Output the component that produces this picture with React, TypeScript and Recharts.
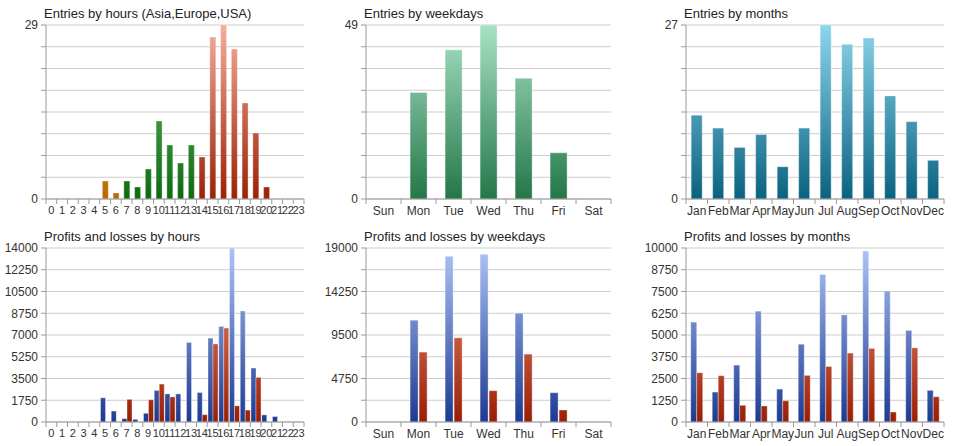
import { BarChart, Bar, XAxis, YAxis, CartesianGrid, Cell } from 'recharts'

const hours = ['0', '1', '2', '3', '4', '5', '6', '7', '8', '9', '10', '11', '12', '13', '14', '15', '16', '17', '18', '19', '20', '21', '22', '23']
const hourSession = ['Asia', 'Asia', 'Asia', 'Asia', 'Asia', 'Asia', 'Asia', 'Europe', 'Europe', 'Europe', 'Europe', 'Europe', 'Europe', 'Europe', 'USA', 'USA', 'USA', 'USA', 'USA', 'USA', 'USA', 'USA', 'USA', 'USA']
const entriesByHour = [0, 0, 0, 0, 0, 3, 1, 3, 2, 5, 13, 9, 6, 9, 7, 27, 29, 25, 16, 11, 2, 0, 0, 0]

const weekdays = ['Sun', 'Mon', 'Tue', 'Wed', 'Thu', 'Fri', 'Sat']
const entriesByWeekday = [0, 30, 42, 49, 34, 13, 0]

const months = ['Jan', 'Feb', 'Mar', 'Apr', 'May', 'Jun', 'Jul', 'Aug', 'Sep', 'Oct', 'Nov', 'Dec']
const entriesByMonth = [13, 11, 8, 10, 5, 11, 27, 24, 25, 16, 12, 6]

const profitByHour = [0, 0, 0, 0, 0, 1950, 880, 270, 210, 700, 2540, 2260, 2260, 6400, 2370, 6750, 7690, 14000, 8930, 4340, 570, 440, 0, 0]
const lossByHour = [0, 0, 0, 0, 0, 0, 0, 1820, 0, 1790, 3050, 2020, 0, 0, 590, 6280, 7560, 1300, 960, 3590, 0, 0, 0, 0]

const profitByWeekday = [0, 11120, 18090, 18310, 11880, 3200, 0]
const lossByWeekday = [0, 7630, 9190, 3420, 7410, 1310, 0]

const profitByMonth = [5740, 1720, 3270, 6370, 1890, 4470, 8470, 6160, 9830, 7530, 5260, 1820]
const lossByMonth = [2830, 2660, 960, 920, 1220, 2680, 3190, 3960, 4230, 570, 4260, 1450]

const entriesTicks = (max: number) => Array.from({ length: 9 }, (_, i) => (max * i) / 8)
const plTicksHours = [0, 1750, 3500, 5250, 7000, 8750, 10500, 12250, 14000]
const plTicksWeekdays = [0, 2375, 4750, 7125, 9500, 11875, 14250, 16625, 19000]
const plTicksWeekdaysLabels = [0, 4750, 9500, 14250, 19000]
const plTicksMonths = [0, 1250, 2500, 3750, 5000, 6250, 7500, 8750, 10000]

const hourData = hours.map((h, i) => ({ name: h, entries: entriesByHour[i], session: hourSession[i], profit: profitByHour[i], loss: lossByHour[i] }))
const weekdayData = weekdays.map((d, i) => ({ name: d, entries: entriesByWeekday[i], profit: profitByWeekday[i], loss: lossByWeekday[i] }))
const monthData = months.map((m, i) => ({ name: m, entries: entriesByMonth[i], profit: profitByMonth[i], loss: lossByMonth[i] }))

const FONT = '"Liberation Sans", Arial, sans-serif'
const AXIS = '#9a9a9a'
const GRID = '#cdcdcd'
const TEXT = '#333'
const W = 320
const H = 223
const TOP = 25
const BOTTOM = 199

const sessionFill: Record<string, string> = { Asia: 'url(#gAsia)', Europe: 'url(#gEurope)', USA: 'url(#gUsa)' }

function grad(id: string, top: string, bottom: string) {
  return (
    <linearGradient id={id} gradientUnits="userSpaceOnUse" x1={0} y1={TOP} x2={0} y2={BOTTOM}>
      <stop offset="0%" stopColor={top} />
      <stop offset="100%" stopColor={bottom} />
    </linearGradient>
  )
}

// category ticks: label in the middle, tick marks on the slot borders
const makeTick = (plotWidth: number, count: number, fontSize = 12) => (props: any) => {
  const { x, y, payload, index } = props
  const slot = plotWidth / count
  const axisY = y - 7
  return (
    <g>
      <line x1={x - slot / 2} x2={x - slot / 2} y1={axisY} y2={axisY + 5} stroke={AXIS} />
      {index === count - 1 && <line x1={x + slot / 2} x2={x + slot / 2} y1={axisY} y2={axisY + 5} stroke={AXIS} />}
      <text x={x} y={axisY + 7} dy="0.71em" textAnchor="middle" fontSize={fontSize} fill={TEXT} fontFamily={FONT}>
        {payload.value}
      </text>
    </g>
  )
}

const endsOnly = (max: number) => (v: number) => (v === 0 || v === max ? String(v) : '')

function Panel({ title, left, top, children }: any) {
  return (
    <div style={{ position: 'absolute', left, top, width: W, height: H }}>
      <div style={{ position: 'absolute', left: 44, top: 6, fontSize: 13, lineHeight: '15px', color: '#222', fontFamily: FONT, whiteSpace: 'nowrap' }}>
        {title}
      </div>
      {children}
    </div>
  )
}

function yAxisProps(ticks: number[], max: number, fmt?: (v: number) => string) {
  return {
    type: 'number' as const,
    domain: [0, max],
    ticks,
    interval: 0 as const,
    width: 46,
    tickSize: 5,
    tickMargin: 3,
    axisLine: { stroke: AXIS },
    tickLine: { stroke: AXIS },
    tick: { fontSize: 12, fill: TEXT, fontFamily: FONT },
    tickFormatter: fmt,
    allowDataOverflow: true,
  }
}

function xAxisProps(plotWidth: number, count: number, fontSize = 12) {
  return {
    dataKey: 'name',
    interval: 0 as const,
    height: 24,
    tickSize: 5,
    tickMargin: 2,
    axisLine: { stroke: AXIS },
    tickLine: { stroke: 'none' },
    tick: makeTick(plotWidth, count, fontSize),
  }
}

const barStroke = 'rgba(255,255,255,0.35)'

export default function App() {
  const maxH = 29
  const maxW = 49
  const maxM = 27
  return (
    <div style={{ position: 'absolute', left: 0, top: 0, width: 960, height: 446, background: '#fff', overflow: 'hidden' }}>
      <Panel title="Entries by hours (Asia,Europe,USA)" left={0} top={0}>
        <BarChart width={W} height={H} data={hourData} margin={{ top: TOP, right: 16, bottom: 0, left: 0 }} barCategoryGap="24%">
          <defs>
            {grad('gAsia', '#ffc860', '#b86800')}
            {grad('gEurope', '#70c870', '#0e6a10')}
            {grad('gUsa', '#f6ae9c', '#9a2206')}
          </defs>
          <CartesianGrid vertical={false} stroke={GRID} />
          <XAxis {...xAxisProps(258, 24, 11)} />
          <YAxis {...yAxisProps(entriesTicks(maxH), maxH, endsOnly(maxH))} />
          <Bar dataKey="entries" isAnimationActive={false} stroke={barStroke}>
            {hourData.map((d, i) => (
              <Cell key={i} fill={sessionFill[d.session]} />
            ))}
          </Bar>
        </BarChart>
      </Panel>

      <Panel title="Entries by weekdays" left={320} top={0}>
        <BarChart width={W} height={H} data={weekdayData} margin={{ top: TOP, right: 29, bottom: 0, left: 0 }} barCategoryGap="26%">
          <defs>{grad('gWeek', '#a8e2c6', '#247648')}</defs>
          <CartesianGrid vertical={false} stroke={GRID} />
          <XAxis {...xAxisProps(245, 7)} />
          <YAxis {...yAxisProps(entriesTicks(maxW), maxW, endsOnly(maxW))} />
          <Bar dataKey="entries" fill="url(#gWeek)" stroke={barStroke} isAnimationActive={false} />
        </BarChart>
      </Panel>

      <Panel title="Entries by months" left={640} top={0}>
        <BarChart width={W} height={H} data={monthData} margin={{ top: TOP, right: 16, bottom: 0, left: 0 }} barCategoryGap="24%">
          <defs>{grad('gMonth', '#8cd6ec', '#0a6280')}</defs>
          <CartesianGrid vertical={false} stroke={GRID} />
          <XAxis {...xAxisProps(258, 12)} />
          <YAxis {...yAxisProps(entriesTicks(maxM), maxM, endsOnly(maxM))} />
          <Bar dataKey="entries" fill="url(#gMonth)" stroke={barStroke} isAnimationActive={false} />
        </BarChart>
      </Panel>

      <Panel title="Profits and losses by hours" left={0} top={223}>
        <BarChart width={W} height={H} data={hourData} margin={{ top: TOP, right: 16, bottom: 0, left: 0 }} barCategoryGap="7%" barGap={0}>
          <defs>
            {grad('gBlue1', '#aec4f6', '#1c3a92')}
            {grad('gRed1', '#f4987a', '#9a1e06')}
          </defs>
          <CartesianGrid vertical={false} stroke={GRID} />
          <XAxis {...xAxisProps(258, 24, 11)} />
          <YAxis {...yAxisProps(plTicksHours, 14000)} />
          <Bar dataKey="profit" fill="url(#gBlue1)" stroke={barStroke} isAnimationActive={false} />
          <Bar dataKey="loss" fill="url(#gRed1)" stroke={barStroke} isAnimationActive={false} />
        </BarChart>
      </Panel>

      <Panel title="Profits and losses by weekdays" left={320} top={223}>
        <BarChart width={W} height={H} data={weekdayData} margin={{ top: TOP, right: 29, bottom: 0, left: 0 }} barCategoryGap="26%" barGap={1}>
          <defs>
            {grad('gBlue2', '#aec4f6', '#1c3a92')}
            {grad('gRed2', '#f4987a', '#9a1e06')}
          </defs>
          <CartesianGrid vertical={false} stroke={GRID} />
          <XAxis {...xAxisProps(245, 7)} />
          <YAxis
            {...yAxisProps(plTicksWeekdays, 19000, (v: number) => (plTicksWeekdaysLabels.includes(v) ? String(v) : ''))}
          />
          <Bar dataKey="profit" fill="url(#gBlue2)" stroke={barStroke} isAnimationActive={false} />
          <Bar dataKey="loss" fill="url(#gRed2)" stroke={barStroke} isAnimationActive={false} />
        </BarChart>
      </Panel>

      <Panel title="Profits and losses by months" left={640} top={223}>
        <BarChart width={W} height={H} data={monthData} margin={{ top: TOP, right: 16, bottom: 0, left: 0 }} barCategoryGap="22%" barGap={0}>
          <defs>
            {grad('gBlue3', '#aec4f6', '#1c3a92')}
            {grad('gRed3', '#f4987a', '#9a1e06')}
          </defs>
          <CartesianGrid vertical={false} stroke={GRID} />
          <XAxis {...xAxisProps(258, 12)} />
          <YAxis {...yAxisProps(plTicksMonths, 10000)} />
          <Bar dataKey="profit" fill="url(#gBlue3)" stroke={barStroke} isAnimationActive={false} />
          <Bar dataKey="loss" fill="url(#gRed3)" stroke={barStroke} isAnimationActive={false} />
        </BarChart>
      </Panel>
    </div>
  )
}
